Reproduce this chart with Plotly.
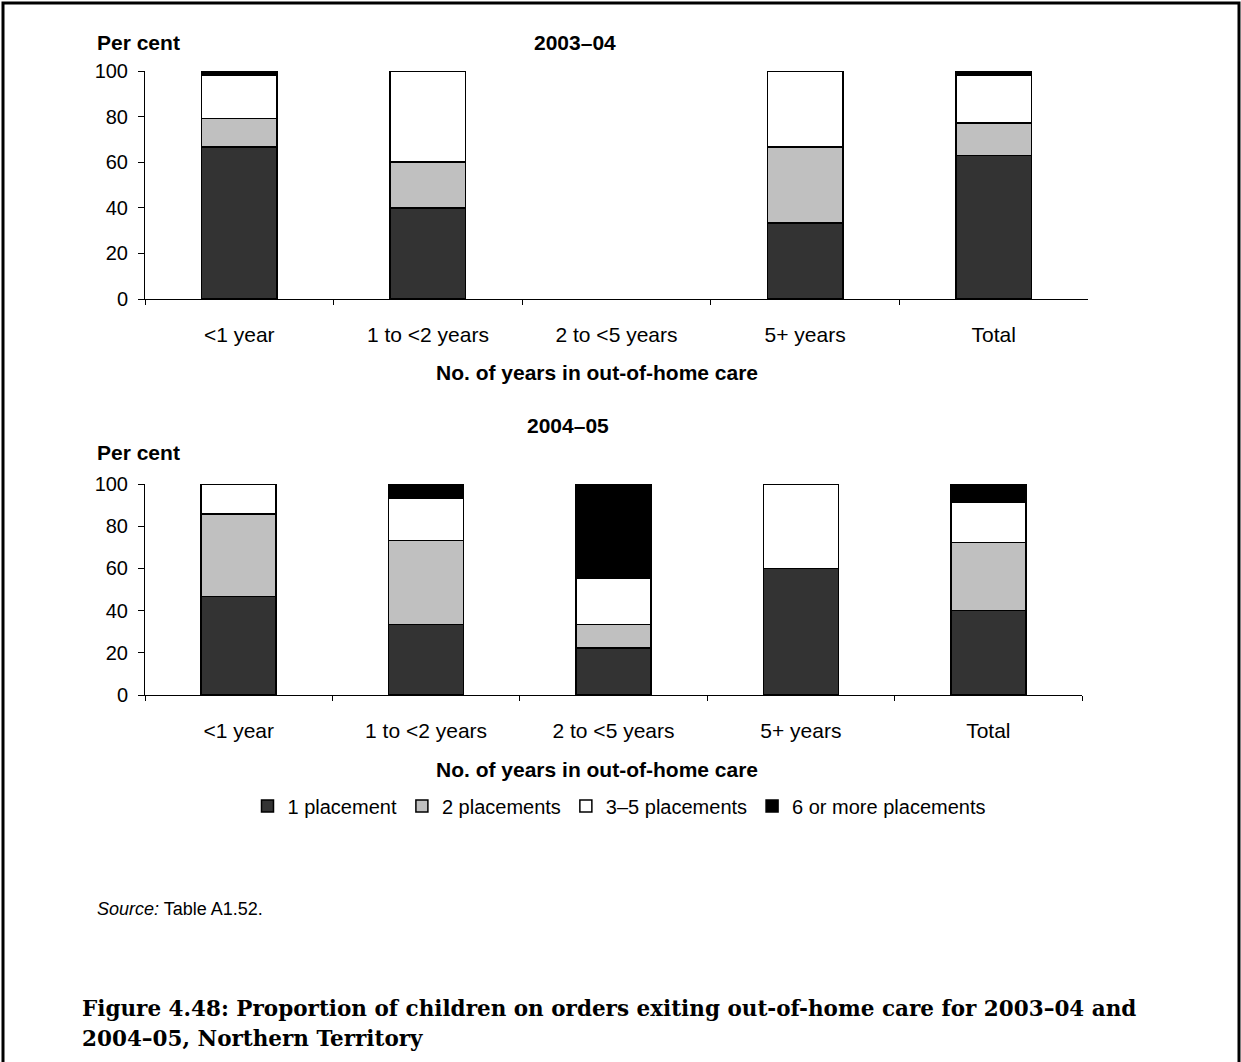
import plotly.graph_objects as go

# ---------------- data ----------------
categories = ["<1 year", "1 to <2 years", "2 to <5 years", "5+ years", "Total"]
series_names = ["1 placement", "2 placements", "3\u20135 placements", "6 or more placements"]

p1_2003 = [66.7, 40.0, None, 33.3, 63.0]
p2_2003 = [12.5, 20.0, None, 33.3, 14.2]
p35_2003 = [18.8, 40.0, None, 33.4, 21.0]
p6_2003 = [2.0, None, None, None, 1.8]

p1_2004 = [46.7, 33.3, 22.2, 60.0, 40.0]
p2_2004 = [39.0, 40.0, 11.1, None, 32.3]
p35_2004 = [14.3, 20.0, 22.2, 40.0, 18.9]
p6_2004 = [None, 6.7, 44.5, None, 8.8]

y_ticks = [0, 20, 40, 60, 80, 100]
colors = ["#333333", "#C0C0C0", "#FFFFFF", "#000000"]

W, H = 1241, 1062
def px(x):
    return x / W
def py(y):
    return 1 - y / H

FONT = "Liberation Sans, Arial, sans-serif"

fig = go.Figure()

data_2003 = [p1_2003, p2_2003, p35_2003, p6_2003]
data_2004 = [p1_2004, p2_2004, p35_2004, p6_2004]

for i, name in enumerate(series_names):
    fig.add_trace(go.Bar(
        x=categories, y=data_2003[i], name=name, legendgroup=name,
        showlegend=False, marker=dict(color=colors[i], line=dict(color="#000000", width=1.5)),
        width=0.4, xaxis="x", yaxis="y"))
for i, name in enumerate(series_names):
    fig.add_trace(go.Bar(
        x=categories, y=data_2004[i], name=name, legendgroup=name,
        showlegend=True, marker=dict(color=colors[i], line=dict(color="#000000", width=1.5)),
        width=0.4, xaxis="x2", yaxis="y2"))

xaxis_common = dict(
    type="category", range=[-0.5, 4.5], showline=True, linecolor="#000000", linewidth=1,
    ticks="outside", tickson="boundaries", ticklen=5, tickcolor="#000000", tickwidth=1,
    showgrid=False, zeroline=False, tickfont=dict(family=FONT, size=21, color="#000000"),
    ticklabelstandoff=17, fixedrange=True, automargin=False)
yaxis_common = dict(
    range=[0, 100], tickvals=y_ticks, showline=True, linecolor="#000000", linewidth=1,
    ticks="outside", ticklen=6, tickcolor="#000000", tickwidth=1, showgrid=False,
    zeroline=False, tickfont=dict(family=FONT, size=20, color="#000000"), fixedrange=True,
    ticklabelstandoff=6, automargin=False)

fig.update_layout(
    width=W, height=H, margin=dict(l=0, r=0, t=0, b=0, autoexpand=False),
    paper_bgcolor="#FFFFFF", plot_bgcolor="#FFFFFF",
    barmode="stack", bargap=0.6,
    font=dict(family=FONT, size=20, color="#000000"),
    xaxis=dict(xaxis_common, domain=[px(145), px(1088)], anchor="y"),
    yaxis=dict(yaxis_common, domain=[py(299), py(71)], anchor="x"),
    xaxis2=dict(xaxis_common, domain=[px(145), px(1082)], anchor="y2"),
    yaxis2=dict(yaxis_common, domain=[py(695), py(484)], anchor="x2"),
    legend=dict(orientation="h", x=px(619), xanchor="center", y=py(806), yanchor="middle",
                font=dict(family=FONT, size=20, color="#000000"), itemwidth=30,
                traceorder="normal", bgcolor="rgba(0,0,0,0)"),
)

def ann(text, x, y, size=20, xanchor="center", font=FONT):
    fig.add_annotation(text=text, x=px(x), y=py(y), xref="paper", yref="paper",
                       xanchor=xanchor, yanchor="middle", showarrow=False,
                       font=dict(family=font, size=size, color="#000000"))

ann("<b>Per cent</b>", 95, 43, 21, "left")
ann("<b>2003\u201304</b>", 575, 43, 21)
ann("<b>No. of years in out-of-home care</b>", 597, 372, 21)
ann("<b>2004\u201305</b>", 568, 425, 21)
ann("<b>Per cent</b>", 95, 452, 21, "left")
ann("<b>No. of years in out-of-home care</b>", 597, 769, 21)
ann("<i>Source:</i> Table A1.52.", 95, 909, 18, "left")
SERIF = "DejaVu Serif, serif"
ann("<b>Figure 4.48: Proportion of children on orders exiting out-of-home care for 2003\u201304 and</b>",
    80, 1008, 21.5, "left", SERIF)
ann("<b>2004\u201305, Northern Territory</b>", 80, 1038, 21.5, "left", SERIF)

# page border
fig.add_shape(type="rect", xref="paper", yref="paper", x0=px(3), x1=px(1239), y0=-0.05, y1=py(3),
              line=dict(color="#000000", width=3), fillcolor="rgba(0,0,0,0)", layer="above")

fig.write_html("out.html", config={"displayModeBar": False},
               post_script="document.body.style.margin='0';")
